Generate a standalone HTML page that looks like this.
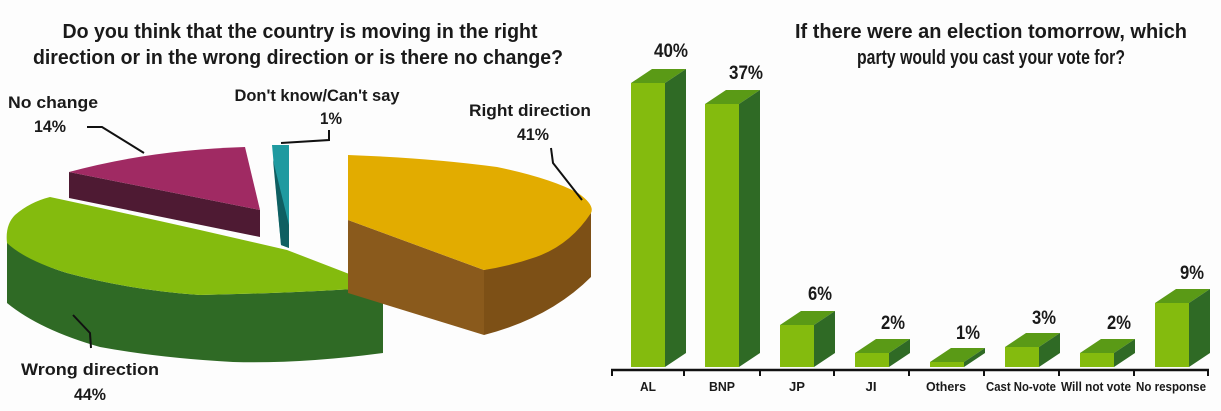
<!DOCTYPE html>
<html><head><meta charset="utf-8"><style>
html,body{margin:0;padding:0;background:#fdfdfd;}
svg{display:block;}
text{font-family:"Liberation Sans Narrow","Liberation Sans",sans-serif;font-weight:bold;fill:#1a1a1a;}
</style></head><body>
<svg width="1221" height="411" viewBox="0 0 1221 411" xmlns="http://www.w3.org/2000/svg">
<rect width="1221" height="411" fill="#fdfdfd"/>
<g font-size="20" text-anchor="middle">
<text x="300" y="38" textLength="475" lengthAdjust="spacingAndGlyphs">Do you think that the country is moving in the right</text>
<text x="298" y="64" textLength="530" lengthAdjust="spacingAndGlyphs">direction or in the wrong direction or is there no change?</text>
<text x="991" y="38" textLength="392" lengthAdjust="spacingAndGlyphs">If there were an election tomorrow, which</text>
<text x="991" y="64" textLength="268" lengthAdjust="spacingAndGlyphs">party would you cast your vote for?</text>
</g>
<!-- PIE -->
<path d="M7,240 Q30,262 67,273 Q130,290 200,295 Q300,293 383,287 L383,353 Q300,364 233,362 Q160,358 100,347 Q40,330 7,303 Z" fill="#2f6a25"/>
<path d="M50,197 Q120,212 200,230 L287,250 L383,287 Q300,293 200,295 Q130,290 67,273 Q25,260 7,243 Q5,225 15,215 Q30,202 50,197 Z" fill="#84bb0e"/>
<path d="M69,172 L260,210 L260,237 L69,198 Z" fill="#4e1a33"/>
<path d="M69,172 Q150,150 245,147 L260,210 Z" fill="#a02a63"/>
<path d="M272,145 L289,145 L289,248 L281,245 Z" fill="#1f9aa0"/>
<path d="M273,160 L281,245 L289,248 L289,225 Z" fill="#0f5f62"/>
<path d="M348,220 L484,270 L484,335 L348,293 Z" fill="#8a5a1c"/>
<path d="M484,270 Q545,255 591,213 L591,277 Q550,318 484,335 Z" fill="#7d5016"/>
<path d="M348,155 Q430,158 497,167 Q550,178 578,193 Q595,205 591,213 Q570,245 536,257 Q510,266 484,270 L348,220 Z" fill="#e2ac00"/>
<g stroke="#111" stroke-width="2" fill="none">
<polyline points="551,148 553,163 582,200"/>
<polyline points="329,130 329,140 281,143"/>
<polyline points="87,127 102,127 144,153"/>
<polyline points="73,315 90,333 91,348"/>
</g>
<g font-size="17" text-anchor="middle">
<text x="53" y="108" textLength="90" lengthAdjust="spacingAndGlyphs">No change</text>
<text x="50" y="132" textLength="32" lengthAdjust="spacingAndGlyphs">14%</text>
<text x="317" y="101" textLength="165" lengthAdjust="spacingAndGlyphs">Don't know/Can't say</text>
<text x="331" y="124" textLength="22" lengthAdjust="spacingAndGlyphs">1%</text>
<text x="530" y="116" textLength="122" lengthAdjust="spacingAndGlyphs">Right direction</text>
<text x="533" y="140" textLength="32" lengthAdjust="spacingAndGlyphs">41%</text>
<text x="90" y="375" textLength="138" lengthAdjust="spacingAndGlyphs">Wrong direction</text>
<text x="90" y="400" textLength="32" lengthAdjust="spacingAndGlyphs">44%</text>
</g>
<!-- BARS -->
<g>
<polygon points="631,83 652,69 686,69 665,83" fill="#5a9a16"/><polygon points="665,83 686,69 686,353 665,367" fill="#2f6a25"/><rect x="631" y="83" width="34" height="284" fill="#84bb0e"/>
<polygon points="705,104 726,90 760,90 739,104" fill="#5a9a16"/><polygon points="739,104 760,90 760,353 739,367" fill="#2f6a25"/><rect x="705" y="104" width="34" height="263" fill="#84bb0e"/>
<polygon points="780,325 801,311 835,311 814,325" fill="#5a9a16"/><polygon points="814,325 835,311 835,353 814,367" fill="#2f6a25"/><rect x="780" y="325" width="34" height="42" fill="#84bb0e"/>
<polygon points="855,353 876,339 910,339 889,353" fill="#5a9a16"/><polygon points="889,353 910,339 910,353 889,367" fill="#2f6a25"/><rect x="855" y="353" width="34" height="14" fill="#84bb0e"/>
<polygon points="930,362 951,348 985,348 964,362" fill="#5a9a16"/><polygon points="964,362 985,348 985,353 964,367" fill="#2f6a25"/><rect x="930" y="362" width="34" height="5" fill="#84bb0e"/>
<polygon points="1005,347 1026,333 1060,333 1039,347" fill="#5a9a16"/><polygon points="1039,347 1060,333 1060,353 1039,367" fill="#2f6a25"/><rect x="1005" y="347" width="34" height="20" fill="#84bb0e"/>
<polygon points="1080,353 1101,339 1135,339 1114,353" fill="#5a9a16"/><polygon points="1114,353 1135,339 1135,353 1114,367" fill="#2f6a25"/><rect x="1080" y="353" width="34" height="14" fill="#84bb0e"/>
<polygon points="1155,303 1176,289 1210,289 1189,303" fill="#5a9a16"/><polygon points="1189,303 1210,289 1210,353 1189,367" fill="#2f6a25"/><rect x="1155" y="303" width="34" height="64" fill="#84bb0e"/>
</g>
<line x1="611" y1="370" x2="1209" y2="370" stroke="#111" stroke-width="2.5"/>
<g stroke="#111" stroke-width="2">
<line x1="612" y1="370" x2="612" y2="376"/><line x1="684" y1="370" x2="684" y2="376"/><line x1="760" y1="370" x2="760" y2="376"/><line x1="834" y1="370" x2="834" y2="376"/><line x1="909" y1="370" x2="909" y2="376"/><line x1="984" y1="370" x2="984" y2="376"/><line x1="1059" y1="370" x2="1059" y2="376"/><line x1="1134" y1="370" x2="1134" y2="376"/><line x1="1208" y1="370" x2="1208" y2="376"/>
</g>
<g font-size="13" text-anchor="middle" style="fill:#222">
<text x="648" y="391" textLength="16" lengthAdjust="spacingAndGlyphs">AL</text><text x="722" y="391" textLength="26" lengthAdjust="spacingAndGlyphs">BNP</text><text x="797" y="391" textLength="16" lengthAdjust="spacingAndGlyphs">JP</text><text x="871" y="391" textLength="11" lengthAdjust="spacingAndGlyphs">JI</text>
<text x="946" y="391" textLength="40" lengthAdjust="spacingAndGlyphs">Others</text><text x="1021" y="391" textLength="70" lengthAdjust="spacingAndGlyphs">Cast No-vote</text>
<text x="1096" y="391" textLength="70" lengthAdjust="spacingAndGlyphs">Will not vote</text><text x="1171" y="391" textLength="70" lengthAdjust="spacingAndGlyphs">No response</text>
</g>
<g font-size="19" text-anchor="middle">
<text x="671" y="57" textLength="34" lengthAdjust="spacingAndGlyphs">40%</text><text x="746" y="79" textLength="34" lengthAdjust="spacingAndGlyphs">37%</text><text x="820" y="300" textLength="24" lengthAdjust="spacingAndGlyphs">6%</text><text x="893" y="329" textLength="24" lengthAdjust="spacingAndGlyphs">2%</text>
<text x="968" y="339" textLength="24" lengthAdjust="spacingAndGlyphs">1%</text><text x="1044" y="324" textLength="24" lengthAdjust="spacingAndGlyphs">3%</text><text x="1119" y="329" textLength="24" lengthAdjust="spacingAndGlyphs">2%</text><text x="1192" y="279" textLength="24" lengthAdjust="spacingAndGlyphs">9%</text>
</g>
</svg>
</body></html>
